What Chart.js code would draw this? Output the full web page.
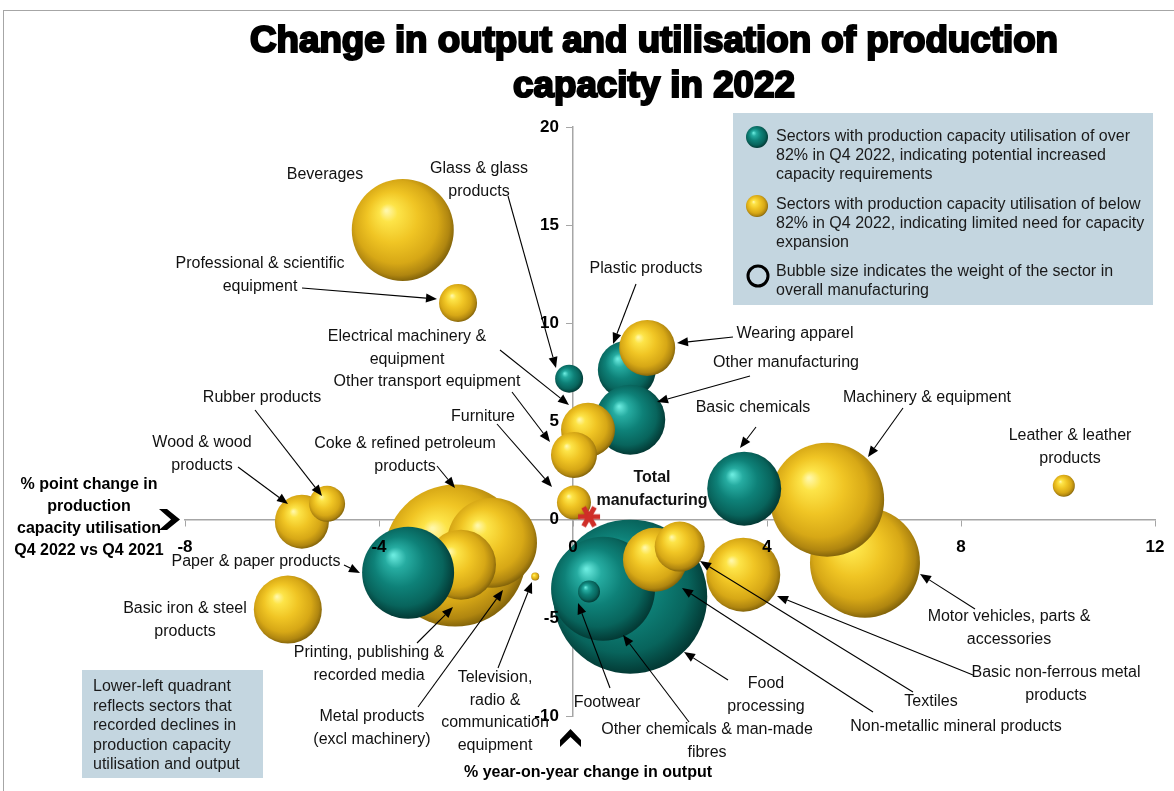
<!DOCTYPE html>
<html>
<head>
<meta charset="utf-8">
<script src="https://cdn.jsdelivr.net/npm/chart.js@4.4.1/dist/chart.umd.min.js"></script>
<style>
  html, body { margin: 0; padding: 0; background: #fff; overflow: hidden; }
  #wrap { width: 1174px; height: 791px; position: relative; }
</style>
</head>
<body>
<div id="wrap"><canvas id="chart"></canvas></div>
<script>
// sectors, in the order they are stacked (back to front)
const sectors = ['Beverages', 'Professional & scientific equipment', 'Glass & glass products', 'Plastic products',
  'Wearing apparel', 'Other manufacturing', 'Electrical machinery & equipment', 'Other transport equipment',
  'Furniture', 'Coke & refined petroleum products', 'Metal products (excl machinery)',
  'Printing, publishing & recorded media', 'Paper & paper products', 'Wood & wood products', 'Rubber products',
  'Basic iron & steel products', 'Television, radio & communication equipment', 'Motor vehicles, parts & accessories',
  'Machinery & equipment', 'Basic chemicals', 'Leather & leather products', 'Food processing',
  'Other chemicals & man-made fibres', 'Footwear', 'Non-metallic mineral products', 'Textiles',
  'Basic non-ferrous metal products'];
// % year-on-year change in output
const outputChange = [-3.51, -2.37, -0.08, 1.11, 1.53, 1.18, 0.31, 0.02, 0.02, -2.43, -1.67, -2.31, -3.40, -5.59,
  -5.07, -5.88, -0.78, 6.02, 5.24, 3.53, 10.12, 1.18, 0.62, 0.33, 1.69, 2.20, 3.51];
// % point change in capacity utilisation Q4 2022 vs Q4 2021
const utilChange = [14.76, 11.04, 7.18, 7.63, 8.75, 5.09, 4.58, 3.30, 0.87, -1.83, -1.17, -2.29, -2.70, -0.10,
  0.81, -4.58, -2.90, -2.19, 1.02, 1.58, 1.73, -3.92, -3.52, -3.66, -2.04, -1.37, -2.80];
// bubble size (weight in manufacturing)
const bubbleSize = [51, 19, 14, 29, 28, 35, 27, 23, 17, 71, 45, 35, 46, 27, 18, 34, 4, 55, 57, 37, 11, 77, 52, 11,
  32, 25, 37];
// 1 = utilisation over 82% in Q4 2022
const overThreshold = [0, 0, 1, 1, 0, 1, 0, 0, 0, 0, 0, 0, 1, 0, 0, 0, 0, 0, 0, 1, 0, 1, 1, 1, 0, 0, 0];

const totalOutput = [0.33];
const totalUtil = [0.15];

const xTicks = [-8, -4, 0, 4, 8, 12];
const yTicks = [-10, -5, 0, 5, 10, 15, 20];

const FONT = '"Liberation Sans", Arial, sans-serif';
const AREA = {left: 185, right: 1155, top: 127, bottom: 716};

// label text + arrow (x1,y1 -> x2,y2)
const labels = [
  {t: ['Beverages'], x: 325, y: 175},
  {t: ['Glass & glass', 'products'], x: 479, y: 169, a: [508, 196, 556, 368]},
  {t: ['Professional & scientific', 'equipment'], x: 260, y: 264, a: [302, 288, 437, 299]},
  {t: ['Plastic products'], x: 646, y: 269, a: [636, 284, 613, 344]},
  {t: ['Wearing apparel'], x: 795, y: 334, a: [733, 337, 677, 343]},
  {t: ['Electrical machinery &', 'equipment'], x: 407, y: 337, a: [500, 350, 569, 405]},
  {t: ['Other manufacturing'], x: 786, y: 363, a: [750, 376, 657, 402]},
  {t: ['Other transport equipment'], x: 427, y: 382, a: [512, 392, 550, 442]},
  {t: ['Rubber products'], x: 262, y: 398, a: [255, 410, 322, 496]},
  {t: ['Machinery & equipment'], x: 927, y: 398, a: [903, 408, 868, 457]},
  {t: ['Basic chemicals'], x: 753, y: 408, a: [756, 427, 740, 448]},
  {t: ['Furniture'], x: 483, y: 417, a: [497, 424, 552, 487]},
  {t: ['Wood & wood', 'products'], x: 202, y: 443, a: [238, 467, 288, 504]},
  {t: ['Coke & refined petroleum', 'products'], x: 405, y: 444, a: [437, 466, 455, 488]},
  {t: ['Leather & leather', 'products'], x: 1070, y: 436},
  {t: ['Total', 'manufacturing'], x: 652, y: 478, bold: true},
  {t: ['Paper & paper products'], x: 256, y: 562, a: [344, 565, 360, 573]},
  {t: ['Basic iron & steel', 'products'], x: 185, y: 609},
  {t: ['Printing, publishing &', 'recorded media'], x: 369, y: 653, a: [417, 643, 453, 607]},
  {t: ['Metal products', '(excl machinery)'], x: 372, y: 717, a: [418, 707, 503, 590]},
  {t: ['Television,', 'radio &', 'communication', 'equipment'], x: 495, y: 678, a: [498, 668, 532, 582]},
  {t: ['Footwear'], x: 607, y: 703, a: [610, 688, 578, 603]},
  {t: ['Other chemicals & man-made', 'fibres'], x: 707, y: 730, a: [689, 722, 623, 635]},
  {t: ['Food', 'processing'], x: 766, y: 684, a: [728, 680, 684, 652]},
  {t: ['Non-metallic mineral products'], x: 956, y: 727, a: [873, 712, 682, 588]},
  {t: ['Textiles'], x: 931, y: 702, a: [913, 692, 700, 561]},
  {t: ['Basic non-ferrous metal', 'products'], x: 1056, y: 673, a: [973, 675, 777, 596]},
  {t: ['Motor vehicles, parts &', 'accessories'], x: 1009, y: 617, a: [975, 609, 920, 574]}
];

function sphereFill(ctx, cx, cy, r, teal) {
  const g = ctx.createRadialGradient(cx - r * 0.32, cy - r * 0.38, r * 0.02, cx - r * 0.06, cy - r * 0.08, r * 1.08);
  const stops = teal
    ? [[0, '#6aeade'], [0.2, '#26aca1'], [0.5, '#0e8178'], [0.8, '#08645c'], [1, '#033a35']]
    : [[0, '#fff7a8'], [0.15, '#fde448'], [0.45, '#f0c524'], [0.75, '#d7a816'], [0.92, '#b08610'], [1, '#86660a']];
  stops.forEach(s => g.addColorStop(s[0], s[1]));
  return g;
}

function makeAsterisk() {
  const c = document.createElement('canvas');
  c.width = 26; c.height = 26;
  const g = c.getContext('2d');
  g.strokeStyle = '#cf2e28';
  g.lineWidth = 5;
  for (let k = 0; k < 3; k++) {
    const a = k * Math.PI / 3;
    g.beginPath();
    g.moveTo(13 - 11 * Math.cos(a), 13 - 11 * Math.sin(a));
    g.lineTo(13 + 11 * Math.cos(a), 13 + 11 * Math.sin(a));
    g.stroke();
  }
  return c;
}

function arrow(ctx, x1, y1, x2, y2) {
  const ang = Math.atan2(y2 - y1, x2 - x1);
  const hl = 11, hw = 4.5;
  const bx = x2 - hl * Math.cos(ang), by = y2 - hl * Math.sin(ang);
  ctx.beginPath();
  ctx.moveTo(x1, y1);
  ctx.lineTo(bx, by);
  ctx.strokeStyle = '#000';
  ctx.lineWidth = 1.1;
  ctx.stroke();
  ctx.beginPath();
  ctx.moveTo(x2, y2);
  ctx.lineTo(bx + hw * Math.sin(ang), by - hw * Math.cos(ang));
  ctx.lineTo(bx - hw * Math.sin(ang), by + hw * Math.cos(ang));
  ctx.closePath();
  ctx.fillStyle = '#000';
  ctx.fill();
}

function lines(ctx, arr, x, y, lh, align) {
  ctx.textAlign = align;
  ctx.textBaseline = 'middle';
  arr.forEach((s, i) => ctx.fillText(s, x, y + i * lh));
}

// the centred axes confuse the layout, so pin the plot area where the reference has it
const pinArea = {
  id: 'pinArea',
  afterLayout(chart) {
    const a = chart.chartArea;
    a.left = AREA.left; a.right = AREA.right; a.top = AREA.top; a.bottom = AREA.bottom;
    a.width = AREA.right - AREA.left; a.height = AREA.bottom - AREA.top;
    const x = chart.scales.x, y = chart.scales.y;
    x.left = AREA.left; x.right = AREA.right; x.width = a.width;
    x.configure();
    y.top = AREA.top; y.bottom = AREA.bottom; y.height = a.height;
    y.configure();
  }
};

const overlay = {
  id: 'overlay',
  afterDraw(chart) {
    const ctx = chart.ctx;
    ctx.save();

    // frame
    ctx.strokeStyle = '#a6a6a6';
    ctx.lineWidth = 1;
    ctx.strokeRect(3.5, 10.5, 1200, 1000);

    // title
    ctx.fillStyle = '#000';
    ctx.strokeStyle = '#000';
    ctx.font = 'bold 37px ' + FONT;
    ctx.textAlign = 'center';
    ctx.textBaseline = 'alphabetic';
    const t1 = 'Change in output and utilisation of production';
    const t2 = 'capacity in 2022';
    const sx = 808 / ctx.measureText(t1).width;
    [[t1, 52], [t2, 97]].forEach(([s, y]) => {
      ctx.save();
      ctx.translate(654, y);
      ctx.scale(sx, 1);
      ctx.lineWidth = 2.2;
      ctx.strokeText(s, 0, 0);
      ctx.fillText(s, 0, 0);
      ctx.restore();
    });

    // sector labels and arrows
    labels.forEach(l => {
      ctx.fillStyle = '#111';
      ctx.font = (l.bold ? 'bold ' : '') + '16px ' + FONT;
      lines(ctx, l.t, l.x, l.y, 22.5, 'center');
      if (l.a) arrow(ctx, l.a[0], l.a[1], l.a[2], l.a[3]);
    });

    // axis titles
    ctx.fillStyle = '#000';
    ctx.font = 'bold 16px ' + FONT;
    lines(ctx, ['% point change in', 'production', 'capacity utilisation', 'Q4 2022 vs Q4 2021'], 89, 485, 22, 'center');
    lines(ctx, ['% year-on-year change in output'], 588, 773, 20, 'center');

    // chevrons
    ctx.fillStyle = '#000';
    ctx.beginPath();
    ctx.moveTo(159, 509); ctx.lineTo(167, 509); ctx.lineTo(180, 519.5);
    ctx.lineTo(167, 530); ctx.lineTo(159, 530); ctx.lineTo(171, 519.5);
    ctx.closePath(); ctx.fill();
    ctx.beginPath();
    ctx.moveTo(560, 740); ctx.lineTo(570.5, 729); ctx.lineTo(581, 740);
    ctx.lineTo(581, 747); ctx.lineTo(570.5, 737); ctx.lineTo(560, 747);
    ctx.closePath(); ctx.fill();

    // legend box
    ctx.fillStyle = '#c4d6e0';
    ctx.fillRect(733, 113, 420, 192);
    ctx.beginPath();
    ctx.arc(757, 137, 11, 0, Math.PI * 2);
    ctx.fillStyle = sphereFill(ctx, 757, 137, 11, true);
    ctx.fill();
    ctx.beginPath();
    ctx.arc(757, 206, 11, 0, Math.PI * 2);
    ctx.fillStyle = sphereFill(ctx, 757, 206, 11, false);
    ctx.fill();
    ctx.beginPath();
    ctx.arc(758, 276, 10, 0, Math.PI * 2);
    ctx.lineWidth = 3;
    ctx.strokeStyle = '#000';
    ctx.stroke();
    ctx.fillStyle = '#1a1a1a';
    ctx.font = '16px ' + FONT;
    lines(ctx, ['Sectors with production capacity utilisation of over', '82% in Q4 2022, indicating potential increased', 'capacity requirements'], 776, 137, 19, 'left');
    lines(ctx, ['Sectors with production capacity utilisation of below', '82% in Q4 2022, indicating limited need for capacity', 'expansion'], 776, 205, 19, 'left');
    lines(ctx, ['Bubble size indicates the weight of the sector in', 'overall manufacturing'], 776, 272, 19, 'left');

    // note box
    ctx.fillStyle = '#c4d6e0';
    ctx.fillRect(82, 670, 181, 108);
    ctx.fillStyle = '#1a1a1a';
    lines(ctx, ['Lower-left quadrant', 'reflects sectors that', 'recorded declines in', 'production capacity', 'utilisation and output'], 93, 687, 19.5, 'left');

    ctx.restore();
  }
};

const tickFont = {family: FONT, size: 17, weight: 'bold'};
const axisGrid = {drawOnChartArea: false, drawTicks: true, tickLength: 6, color: '#a6a6a6'};
const axisBorder = {color: '#a6a6a6', width: 1.5};

function bubbleFill(c) {
  const chart = c.chart;
  const raw = c.raw;
  const teal = overThreshold[c.dataIndex] === 1;
  const flat = teal ? '#0f867c' : '#e6bb20';
  if (c.type !== 'data' || !raw || !chart.scales.x || !chart.scales.y) return flat;
  const x = chart.scales.x.getPixelForValue(raw.x);
  const y = chart.scales.y.getPixelForValue(raw.y);
  if (!isFinite(x) || !isFinite(y) || !isFinite(raw.r)) return flat;
  return sphereFill(chart.ctx, x, y, raw.r, teal);
}

new Chart(document.getElementById('chart'), {
  type: 'bubble',
  data: {
    datasets: [
      {
        type: 'scatter',
        label: 'Total manufacturing',
        data: totalOutput.map((x, i) => ({x: x, y: totalUtil[i]})),
        pointStyle: makeAsterisk(),
        clip: false
      },
      {
        label: 'Sectors',
        data: sectors.map((s, i) => ({x: outputChange[i], y: utilChange[i], r: bubbleSize[i]})),
        borderWidth: 0,
        clip: false,
        backgroundColor: bubbleFill
      }
    ]
  },
  options: {
    responsive: true,
    maintainAspectRatio: false,
    animation: false,
    events: [],
    layout: {padding: {left: 185, right: 19, top: 127, bottom: 75}},
    plugins: {legend: {display: false}, tooltip: {enabled: false}},
    scales: {
      x: {
        type: 'linear',
        position: {y: 0},
        min: xTicks[0],
        max: xTicks[xTicks.length - 1],
        ticks: {stepSize: xTicks[1] - xTicks[0], font: tickFont, color: '#000', padding: 11, z: 1},
        grid: axisGrid,
        border: axisBorder,
        afterFit: (s) => { s.height = 0; }
      },
      y: {
        type: 'linear',
        position: {x: 0},
        min: yTicks[0],
        max: yTicks[yTicks.length - 1],
        ticks: {stepSize: yTicks[1] - yTicks[0], font: tickFont, color: '#000', z: 1, callback: (v) => v + '   '},
        grid: axisGrid,
        border: axisBorder,
        afterFit: (s) => { s.width = 0; }
      }
    }
  },
  plugins: [pinArea, overlay]
});
</script>
</body>
</html>
